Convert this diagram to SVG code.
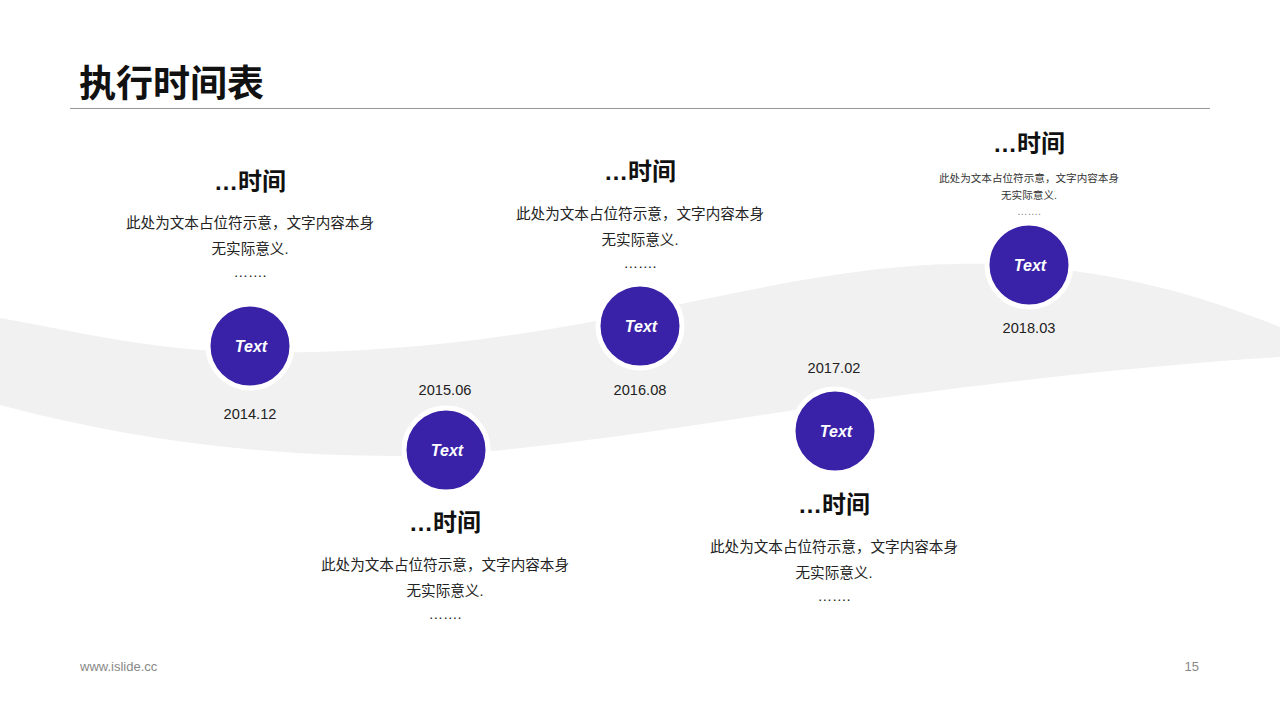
<svg xmlns="http://www.w3.org/2000/svg" width="1280" height="720" viewBox="0 0 1280 720">
<style>
.t{font-family:"Liberation Sans","Noto Sans CJK SC",sans-serif;fill:#111}
.h{font-size:24px;font-weight:bold;text-anchor:middle}
.d{font-size:14.6px;text-anchor:middle;fill:#222}
.s{font-size:10.6px;text-anchor:middle;fill:#333}
.g{fill:#888}
.c{fill:#3A22A8;stroke:#fff;stroke-width:5}
.ct{font-family:"Liberation Sans",sans-serif;font-size:16px;font-weight:bold;font-style:italic;fill:#fff;text-anchor:middle}
</style>
<rect width="1280" height="720" fill="#fff"/>
<g id="band">
<path d="M0,318 C80,332 150,350 240,352 C380,355 520,340 700,300 C820,275 900,262 990,264 C1110,268 1200,295 1280,327 L1280,357 C1150,365 1000,382 880,398 C750,415 620,440 450,455 C300,460 150,445 0,405 Z" fill="#f1f1f1"/>
</g>
<g id="header">
<text class="t" x="79" y="97" font-size="37" font-weight="bold">执行时间表</text>
<line x1="70" y1="108.5" x2="1210" y2="108.5" stroke="#999" stroke-width="1"/>
</g>
<g id="node1">
<text class="t h" x="250" y="190">…时间</text>
<text class="t d" x="250" y="228">此处为文本占位符示意，文字内容本身</text>
<text class="t d" x="250" y="254">无实际意义.</text>
<text class="t d" x="250" y="277">…….</text>
<circle class="c" cx="250" cy="346" r="42"/>
<text class="ct" x="251" y="352">Text</text>
<text class="t d" x="250" y="419">2014.12</text>
</g>
<g id="node2">
<text class="t d" x="445" y="395">2015.06</text>
<circle class="c" cx="446" cy="450" r="42"/>
<text class="ct" x="447" y="456">Text</text>
<text class="t h" x="445" y="531">…时间</text>
<text class="t d" x="445" y="570">此处为文本占位符示意，文字内容本身</text>
<text class="t d" x="445" y="596">无实际意义.</text>
<text class="t d" x="445" y="619">…….</text>
</g>
<g id="node3">
<text class="t h" x="640" y="180">…时间</text>
<text class="t d" x="640" y="219">此处为文本占位符示意，文字内容本身</text>
<text class="t d" x="640" y="245">无实际意义.</text>
<text class="t d" x="640" y="268">…….</text>
<circle class="c" cx="640" cy="326" r="42"/>
<text class="ct" x="641" y="332">Text</text>
<text class="t d" x="640" y="395">2016.08</text>
</g>
<g id="node4">
<text class="t d" x="834" y="373">2017.02</text>
<circle class="c" cx="835" cy="431" r="42"/>
<text class="ct" x="836" y="437">Text</text>
<text class="t h" x="834" y="513">…时间</text>
<text class="t d" x="834" y="552">此处为文本占位符示意，文字内容本身</text>
<text class="t d" x="834" y="578">无实际意义.</text>
<text class="t d" x="834" y="601">…….</text>
</g>
<g id="node5">
<text class="t h" x="1029" y="152">…时间</text>
<text class="t s" x="1029" y="182">此处为文本占位符示意，文字内容本身</text>
<text class="t s" x="1029" y="199">无实际意义.</text>
<text class="t s g" x="1029" y="215">…….</text>
<circle class="c" cx="1029" cy="265" r="42"/>
<text class="ct" x="1030" y="271">Text</text>
<text class="t d" x="1029" y="333">2018.03</text>
</g>
<g id="footer">
<text class="t g" x="80" y="671" font-size="13">www.islide.cc</text>
<text class="t g" x="1199" y="671" font-size="13" text-anchor="end">15</text>
</g>
</svg>
